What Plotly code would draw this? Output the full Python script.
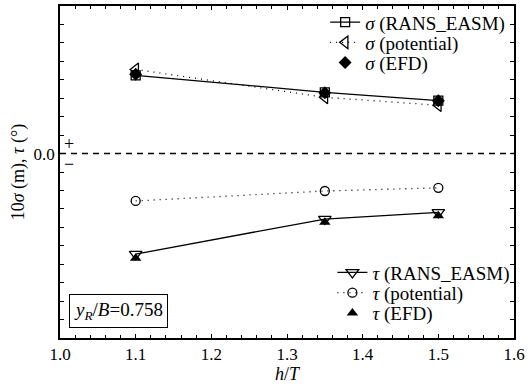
import plotly.graph_objects as go

h_T = [1.1, 1.35, 1.5]
sigma_rans = [0.424, 0.332, 0.287]
sigma_pot = [0.456, 0.305, 0.262]
sigma_efd = [0.430, 0.329, 0.286]
tau_rans = [-0.545, -0.355, -0.319]
tau_pot = [-0.257, -0.203, -0.186]
tau_efd = [-0.567, -0.373, -0.337]

y_ticks = [round(-1.0 + 0.1 * i, 1) for i in range(19)]
y_ticktext = ["0.0" if abs(v) < 1e-9 else " " for v in y_ticks]
x_ticks = [1.0, 1.1, 1.2, 1.3, 1.4, 1.5, 1.6]

FONT = "'Liberation Serif', 'Times New Roman', Times, serif"
DOT = "1px,5px"
FS = 19

fig = go.Figure()

fig.add_trace(go.Scatter(x=h_T, y=sigma_rans, mode="lines+markers", name="<i>σ</i> (RANS_EASM)",
                         line=dict(color="black", width=1.3),
                         marker=dict(symbol="square-open", size=9, color="black", line=dict(width=1.3)),
                         legend="legend"))
fig.add_trace(go.Scatter(x=h_T, y=sigma_pot, mode="lines+markers", name="<i>σ</i> (potential)",
                         line=dict(color="black", width=1.3, dash=DOT),
                         marker=dict(symbol="triangle-left-open", size=11, color="black", line=dict(width=1.3)),
                         legend="legend2"))
fig.add_trace(go.Scatter(x=h_T, y=sigma_efd, mode="markers", name="<i>σ</i> (EFD)",
                         marker=dict(symbol="diamond", size=10, color="black"),
                         legend="legend3"))

fig.add_trace(go.Scatter(x=h_T, y=tau_rans, mode="lines+markers", name="<i>τ</i> (RANS_EASM)",
                         line=dict(color="black", width=1.3),
                         marker=dict(symbol="triangle-down-open", size=11, color="black", line=dict(width=1.3)),
                         legend="legend4"))
fig.add_trace(go.Scatter(x=h_T, y=tau_pot, mode="lines+markers", name="<i>τ</i> (potential)",
                         line=dict(color="black", width=1.3, dash=DOT),
                         marker=dict(symbol="circle-open", size=9, color="black", line=dict(width=1.3)),
                         legend="legend5"))
fig.add_trace(go.Scatter(x=h_T, y=tau_efd, mode="markers", name="<i>τ</i> (EFD)",
                         marker=dict(symbol="triangle-up", size=10, color="black"),
                         legend="legend6"))

fig.add_shape(type="line", xref="paper", yref="y", x0=0, x1=1, y0=0, y1=0,
              line=dict(color="black", width=1.4, dash="6px,5px"), layer="below")

fig.add_annotation(xref="x", yref="y", x=1.012, y=0, text="+", showarrow=False,
                   xanchor="center", yanchor="middle",
                   yshift=10, font=dict(family=FONT, size=18, color="black"))
fig.add_annotation(xref="x", yref="y", x=1.012, y=0, text="−", showarrow=False,
                   xanchor="center", yanchor="middle",
                   yshift=-10, font=dict(family=FONT, size=18, color="black"))

fig.add_annotation(xref="paper", yref="paper", x=0.02, y=0.03, xanchor="left", yanchor="bottom",
                   text="<i>y</i><sub><i>R</i></sub>/<i>B</i>=0.758", showarrow=False,
                   bordercolor="black", borderwidth=1, borderpad=4, bgcolor="white",
                   font=dict(family=FONT, size=19, color="black"))

axis_common = dict(showgrid=False, zeroline=False, showline=True, linecolor="black", linewidth=1.5,
                   mirror="allticks", ticks="inside", tickcolor="black", ticklen=4, tickwidth=1,
                   tickfont=dict(family=FONT, size=17, color="black"))


def leg(xp, yp):
    return dict(x=xp, y=yp, xanchor="left", yanchor="middle", bgcolor="rgba(0,0,0,0)",
                font=dict(family=FONT, size=FS), itemwidth=30, borderwidth=0)


X1 = 0.584
X2 = 0.600
fig.update_layout(
    width=528, height=392,
    margin=dict(l=60, r=11, t=3, b=54),
    paper_bgcolor="white", plot_bgcolor="white",
    font=dict(family=FONT, size=FS, color="black"),
    xaxis=dict(range=[1.0, 1.6], tickvals=x_ticks, ticktext=["%.1f" % v for v in x_ticks],
               minor=dict(dtick=0.02, ticks="inside", ticklen=3, tickcolor="black"),
               title=dict(text="<i>h</i>/<i>T</i>", font=dict(family=FONT, size=18), standoff=2),
               **axis_common),
    yaxis=dict(range=[-1.0, 0.8], tickvals=y_ticks, ticktext=y_ticktext,
               title=dict(text="10<i>σ</i> (m), <i>τ</i> (°)", font=dict(family=FONT, size=18), standoff=4),
               **axis_common),
    legend=leg(X1, 0.951),
    legend2=leg(X1, 0.890),
    legend3=leg(X1, 0.829),
    legend4=leg(X2, 0.197),
    legend5=leg(X2, 0.136),
    legend6=leg(X2, 0.075),
    showlegend=True,
)

fig.write_html("out.html")
